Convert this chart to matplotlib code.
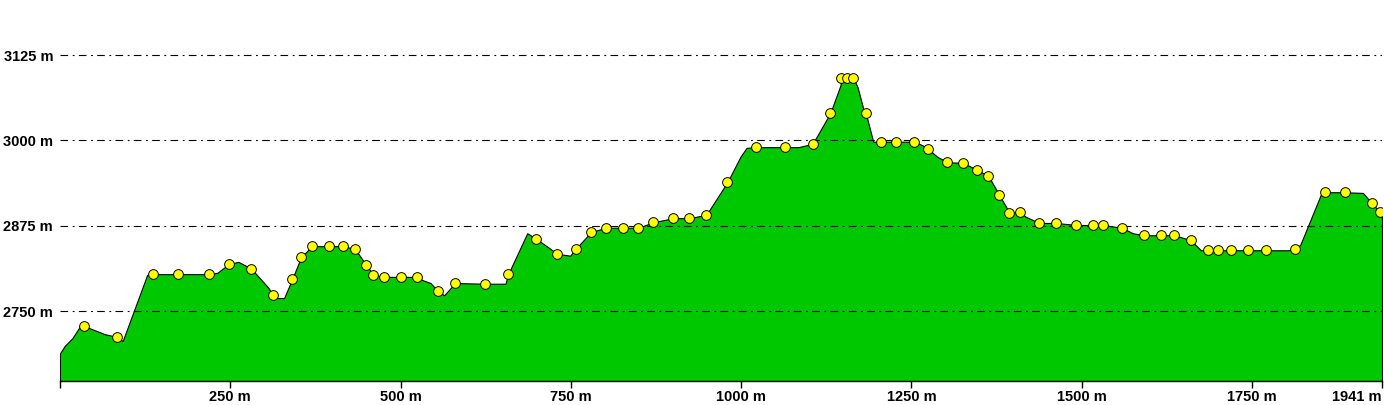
import matplotlib
matplotlib.use("Agg")
import matplotlib.pyplot as plt

# distance along the track (m) and elevation (m)
dist = [0, 7, 18, 29, 35, 43, 66, 84, 92, 128, 137, 173, 219, 231, 248, 262, 281,
        306, 313, 319, 329, 341, 354, 370, 395, 416, 433, 450, 460, 476, 501, 524,
        533, 544, 555, 564, 580, 624, 654, 658, 686, 699, 730, 749, 757, 780, 802,
        826, 849, 871, 900, 924, 949, 980, 999, 1008, 1022, 1064, 1084, 1105, 1131,
        1146, 1147, 1155, 1165, 1171, 1180, 1183, 1194, 1206, 1227, 1254, 1266,
        1275, 1288, 1303, 1326, 1346, 1363, 1379, 1394, 1409, 1418, 1438, 1463,
        1492, 1516, 1531, 1559, 1575, 1591, 1617, 1636, 1660, 1675, 1685, 1700,
        1719, 1744, 1770, 1804, 1813, 1821, 1851, 1858, 1886, 1913, 1926, 1938, 1941]
elev = [2688, 2699, 2710, 2727, 2728, 2725, 2716, 2712, 2706, 2803, 2804, 2804, 2804,
        2806, 2819, 2822, 2812, 2784, 2773, 2769, 2769, 2797, 2829, 2845, 2845, 2845,
        2841, 2817, 2803, 2800, 2800, 2800, 2795, 2791, 2779, 2773, 2791, 2790, 2790,
        2804, 2864, 2856, 2834, 2831, 2841, 2866, 2872, 2872, 2872, 2880, 2886, 2886,
        2891, 2939, 2976, 2989, 2990, 2990, 2990, 2995, 3040, 3081, 3091, 3091, 3091,
        3078, 3044, 3040, 2998, 2998, 2998, 2998, 2993, 2987, 2976, 2968, 2967, 2957,
        2948, 2920, 2894, 2895, 2888, 2879, 2879, 2876, 2876, 2876, 2872, 2864, 2861,
        2861, 2861, 2854, 2839, 2839, 2839, 2839, 2839, 2839, 2839, 2841, 2847, 2920,
        2924, 2924, 2923, 2908, 2895, 2891]
# 1 = waypoint marker shown on the profile
waypoint = [0, 0, 0, 0, 1, 0, 0, 1, 0, 0, 1, 1, 1, 0, 1, 0, 1, 0, 1, 0, 0, 1, 1, 1, 1,
            1, 1, 1, 1, 1, 1, 1, 0, 0, 1, 0, 1, 1, 0, 1, 0, 1, 1, 0, 1, 1, 1, 1, 1, 1,
            1, 1, 1, 1, 0, 0, 1, 1, 0, 1, 1, 0, 1, 1, 1, 0, 0, 1, 0, 1, 1, 1, 0, 1, 0,
            1, 1, 1, 1, 1, 1, 1, 0, 1, 1, 1, 1, 1, 1, 0, 1, 1, 1, 1, 0, 1, 1, 1, 1, 1,
            0, 1, 0, 0, 1, 1, 0, 1, 1, 0]

y_ticks = [2750, 2875, 3000, 3125]
x_ticks = [0, 250, 500, 750, 1000, 1250, 1500, 1750, 1941]
x_labels = ["", "250 m", "500 m", "750 m", "1000 m", "1250 m", "1500 m", "1750 m", "1941 m"]

plt.rcParams['font.family'] = ['Liberation Sans', 'DejaVu Sans']
plt.rcParams['lines.scale_dashes'] = False

fig = plt.figure(figsize=(13.84, 4.05), dpi=100)
ax = fig.add_axes([60 / 1384, 24 / 405, 1322 / 1384, 381 / 405])

ymin, ymax = 2647.5, 3205.6
ax.set_xlim(0, 1941)
ax.set_ylim(ymin, ymax)

# green profile with black outline
ax.fill_between(dist, elev, ymin, facecolor='#00c800', edgecolor='black',
                linewidth=0.8, zorder=1)

# dash-dot reference lines
for v in y_ticks:
    ax.axhline(v, color='black', linewidth=0.8, linestyle=(0, (5.5, 3.3, 1.3, 3.1)),
               zorder=2)

# waypoints
mx = [d for d, w in zip(dist, waypoint) if w]
my = [e for e, w in zip(elev, waypoint) if w]
ax.plot(mx, my, 'o', markersize=7, markerfacecolor='#ffff00',
        markeredgecolor='black', markeredgewidth=0.7, zorder=3)

for s in ['left', 'right', 'top']:
    ax.spines[s].set_visible(False)
ax.spines['bottom'].set_linewidth(1)

ax.set_xticks(x_ticks)
ax.set_xticklabels(x_labels, fontsize=10.5, fontweight='bold')
ax.get_xticklabels()[-1].set_horizontalalignment('right')
ax.set_yticks(y_ticks)
ax.set_yticklabels([f"{v} m" for v in y_ticks], fontsize=10.5, fontweight='bold')
ax.tick_params(axis='x', length=5, width=1, direction='out', pad=1.5)
ax.tick_params(axis='y', length=0, pad=5)

fig.savefig('out.png', dpi=100)
